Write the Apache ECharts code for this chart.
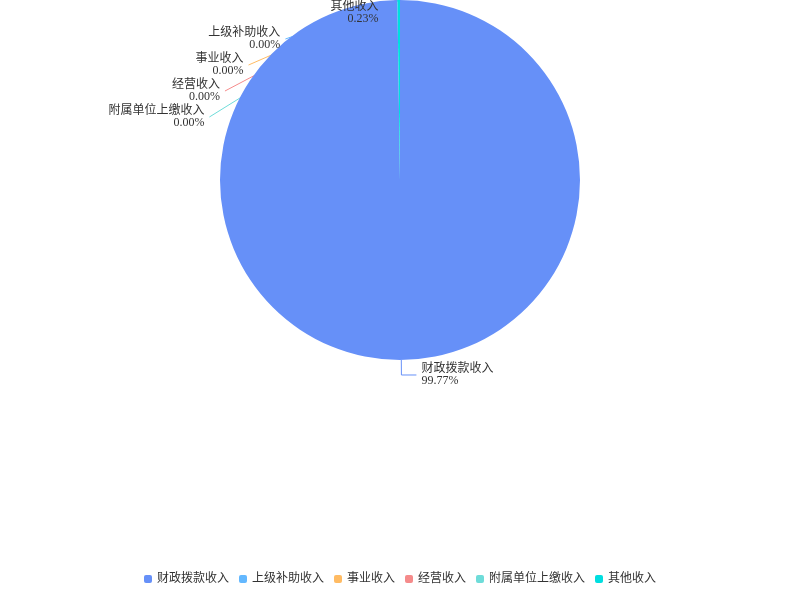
<!DOCTYPE html>
<html>
<head>
<meta charset="utf-8">
<script src="https://cdn.jsdelivr.net/npm/echarts@6/dist/echarts.min.js"></script>
<style>html,body{margin:0;padding:0;background:#fff;}#main{width:800px;height:600px;}</style>
</head>
<body>
<div id="main"></div>
<script>
var categories = ['财政拨款收入', '上级补助收入', '事业收入', '经营收入', '附属单位上缴收入', '其他收入'];
var values = [99.77, 0, 0, 0, 0, 0.23];
var colors = ['#6690F8', '#63B8FF', '#FFBB63', '#F58B8B', '#6EDCD9', '#00DEE0'];

var chart = echarts.init(document.getElementById('main'));
var fontFam = '"Liberation Serif", "Noto Sans CJK SC", serif';
chart.setOption({
  color: colors,
  legend: {
    bottom: 10,
    left: 'center',
    itemWidth: 8,
    itemHeight: 8,
    itemGap: 10,
    icon: 'roundRect',
    textStyle: { fontSize: 12, color: '#333', fontFamily: fontFam },
    data: categories
  },
  series: [{
    type: 'pie',
    center: [400, 180],
    radius: [0, 180],
    startAngle: 90,
    label: {
      show: true,
      formatter: function (p) { return p.name + '\n' + p.percent.toFixed(2) + '%'; },
      fontSize: 12,
      color: '#333',
      lineHeight: 12,
      fontFamily: fontFam
    },
    labelLine: { length: 15, length2: 15 },
    data: categories.map(function (c, i) { return { name: c, value: values[i] }; })
  }]
});
</script>
</body>
</html>
